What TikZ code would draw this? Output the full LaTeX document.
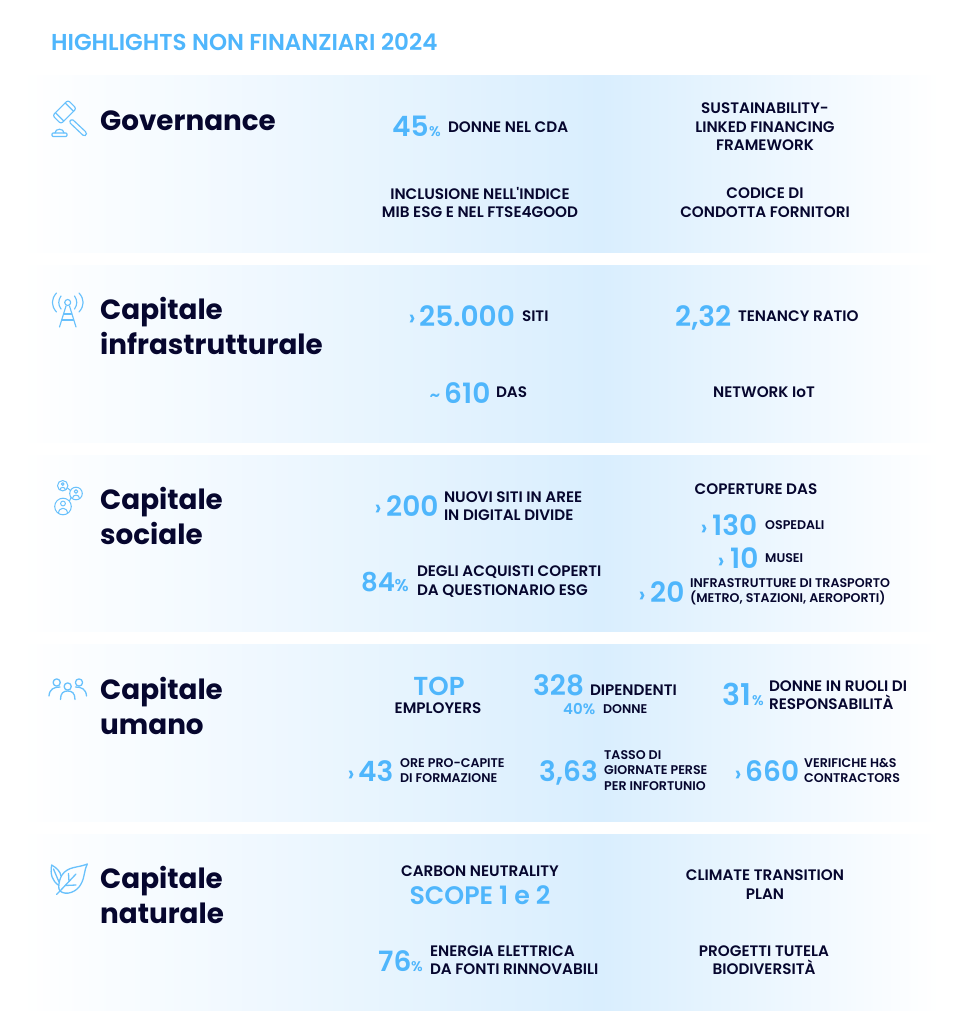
\documentclass[tikz,border=0pt]{standalone}
\usepackage{fontspec}
\setmainfont{Poppins}
\newfontfamily\pmed{Poppins Medium}
\newfontfamily\psemi{Poppins SemiBold}
\definecolor{sky}{HTML}{4FB6FC}
\definecolor{ink}{HTML}{06062E}
\definecolor{band}{HTML}{D9EEFE}
\tikzset{
  txt/.style={inner sep=0pt,outer sep=0pt,text=ink,font=\psemi\fontsize{15.2}{18.4}\selectfont},
  lab/.style={txt,anchor=west,align=left},
  labc/.style={txt,anchor=center,align=center},
  small/.style={inner sep=0pt,anchor=west,align=left,text=ink,font=\psemi\fontsize{12.6}{15.4}\selectfont},
  big/.style={inner sep=0pt,anchor=base west,text=sky,font=\psemi\fontsize{28}{30}\selectfont},
  pct/.style={inner sep=0pt,anchor=base west,text=sky,font=\psemi\fontsize{14}{16}\selectfont},
  gt/.style={inner sep=0pt,anchor=center,text=sky,font=\psemi\fontsize{22}{24}\selectfont},
  head/.style={inner sep=0pt,anchor=base west,align=left,text=ink,font=\bfseries\fontsize{27.8}{35}\selectfont},
  ico/.style={draw=sky!85!white,line width=1.15pt,line cap=round,line join=round,fill=none},
}
\newcommand{\bandat}[2]{%
  \shade[left color=white,right color=band] (20,#1) rectangle (600,#2);
  \shade[left color=band,right color=white] (600,#1) rectangle (940,#2);}
\begin{document}
\begin{tikzpicture}[x=1pt,y=-1pt]
\useasboundingbox (0,0) rectangle (958,1024);
\fill[white] (0,0) rectangle (958,1024);
\bandat{76}{252}\bandat{265}{442}\bandat{455}{631}\bandat{644}{821}\bandat{834}{1010}

\node[inner sep=0pt,anchor=base west,text=sky,font=\psemi\fontsize{23}{26}\selectfont] (title) at (51,51) {HIGHLIGHTS NON FINANZIARI 2024};

% Governance
\node[head] (h1) at (100,131) {Governance};
\node[big] (g1) at (392,137) {45};
\node[pct] (g1p) at (429,137) {\%};
\node[lab] (g1t) at (448,127.500) {DONNE NEL CDA};
\node[labc] (g2) at (765,127) {SUSTAINABILITY-\\LINKED FINANCING\\FRAMEWORK};
\node[labc] (g3) at (480,202.5) {INCLUSIONE NELL'INDICE\\MIB ESG E NEL FTSE4GOOD};
\node[labc] (g4) at (765,202.5) {CODICE DI\\CONDOTTA FORNITORI};

% Infrastrutturale
\node[head,anchor=north west] (h2) at (100,297.500) {Capitale\\infrastrutturale};
\node[gt] (i1g) at (412,320) {›};
\node[big] (i1) at (419,326) {25.000};
\node[lab] (i1t) at (522,316) {SITI};
\node[big] (i2) at (675,326) {2,32};
\node[lab] (i2t) at (738,316) {TENANCY RATIO};
\node[gt,font=\psemi\fontsize{18}{20}\selectfont] (i3g) at (435,398) {\textasciitilde};
\node[big] (i3) at (444,403) {610};
\node[lab] (i3t) at (496,392) {DAS};
\node[labc] (i4) at (764,392) {NETWORK IoT};

% Sociale
\node[head,anchor=north west] (h3) at (100,487.500) {Capitale\\sociale};
\node[gt] (s1g) at (378,510) {›};
\node[big] (s1) at (386,516) {200};
\node[lab] (s1t) at (444,506) {NUOVI SITI IN AREE\\IN DIGITAL DIVIDE};
\node[big,font=\psemi\fontsize{26}{30}\selectfont] (s2) at (361,591) {84};
\node[pct,font=\psemi\fontsize{17}{18}\selectfont] (s2p) at (394.500,591) {\%};
\node[lab] (s2t) at (417,581.5) {DEGLI ACQUISTI COPERTI\\DA QUESTIONARIO ESG};
\node[labc] (s3) at (756,489) {COPERTURE DAS};
\node[gt] (s4g) at (704,530) {›};
\node[big] (s4) at (712,535) {130};
\node[small] (s4t) at (765,525) {OSPEDALI};
\node[gt] (s5g) at (721,563) {›};
\node[big] (s5) at (730,568) {10};
\node[small] (s5t) at (765,558) {MUSEI};
\node[gt] (s6g) at (642,597) {›};
\node[big] (s6) at (650,602) {20};
\node[small] (s6t) at (690,591.5) {INFRASTRUTTURE DI TRASPORTO\\(METRO, STAZIONI, AEROPORTI)};

% Umano
\node[head,anchor=north west] (h4) at (100,677) {Capitale\\umano};
\node[inner sep=0pt,anchor=base,text=sky,font=\psemi\fontsize{26}{28}\selectfont] (u1) at (439,695) {TOP};
\node[labc] (u1t) at (438,708) {EMPLOYERS};
\node[big] (u2) at (533,695) {328};
\node[lab] (u2t) at (590,690) {DIPENDENTI};
\node[inner sep=0pt,anchor=base west,text=sky,font=\psemi\fontsize{15}{16}\selectfont] (u3) at (563,714) {40\%};
\node[small] (u3t) at (603,709) {DONNE};
\node[big,font=\psemi\fontsize{30}{32}\selectfont] (u4) at (722,705.500) {31};
\node[pct] (u4p) at (752,705.500) {\%};
\node[lab] (u4t) at (769,695) {DONNE IN RUOLI DI\\RESPONSABILITÀ};
\node[gt] (u5g) at (351,776) {›};
\node[big] (u5) at (358,781) {43};
\node[small] (u5t) at (400,770.5) {ORE PRO-CAPITE\\DI FORMAZIONE};
\node[big] (u6) at (539,781) {3,63};
\node[small] (u6t) at (604,770.5) {TASSO DI\\GIORNATE PERSE\\PER INFORTUNIO};
\node[gt] (u7g) at (738,776) {›};
\node[big] (u7) at (745,781) {660};
\node[small] (u7t) at (804,770.5) {VERIFICHE H\&S\\CONTRACTORS};

% Naturale
\node[head,anchor=north west] (h5) at (100,866) {Capitale\\naturale};
\node[labc] (n1) at (480,871) {CARBON NEUTRALITY};
\node[inner sep=0pt,anchor=base,text=sky,font=\psemi\fontsize{25.3}{28}\selectfont] (n2) at (480,904) {SCOPE 1 e 2};
\node[labc] (n3) at (765,884.5) {CLIMATE TRANSITION\\PLAN};
\node[big] (n4) at (378,971) {76};
\node[pct] (n4p) at (411,971) {\%};
\node[lab] (n4t) at (430,960) {ENERGIA ELETTRICA\\DA FONTI RINNOVABILI};
\node[labc] (n5) at (764,960) {PROGETTI TUTELA\\BIODIVERSITÀ};

% Gavel icon
\begin{scope}[ico]
  \draw[rounded corners=2.5pt] (68,100.1) -- (76.4,108.5) -- (61,123.9) -- (52.6,115.5) -- cycle;
  \draw (65.2,102.9) -- (73.600,111.300) (55.400,112.700) -- (63.800,121.100);
  \draw[rounded corners=1.5pt] (69,122) -- (72,119) -- (86.5,132.5) -- (86.5,135) -- (84,136.2) -- cycle;
  \draw[rounded corners=1pt] (52,133) rectangle (67,136.500);
  \draw (55,133) .. controls (55,128) and (64,128) .. (64,133);
\end{scope}

% Tower icon
\begin{scope}[ico]
  \draw (67.7,302.5) circle (3);
  \draw (66,306) -- (59.5,327) (69.5,306) -- (76,327);
  \draw (64,314) -- (71.5,314) (62,320) -- (73.5,320);
  \draw (61,296) .. controls (58,300) and (58,305) .. (61,309);
  \draw (74.5,296) .. controls (77.5,300) and (77.5,305) .. (74.5,309);
  \draw (56.5,293) .. controls (51,299) and (51,306) .. (56.5,312);
  \draw (79,293) .. controls (84.500,299) and (84.5,306) .. (79,312);
\end{scope}

% Social icon
\begin{scope}[ico,line width=1pt]
  \draw (62.7,485.7) circle (5.2);
  \draw (76,493.5) circle (6.3);
  \draw (63,506.5) circle (8.3);
  \draw (67.5,488) -- (70.5,490.5) (71,497.5) -- (69.5,501);
  \draw (62.7,484) circle (1.4) (60,490) .. controls (60,486.5) and (65.400,486.5) .. (65.400,490);
  \draw (76,491.5) circle (1.8) (72.500,498.5) .. controls (72.500,494) and (79.500,494) .. (79.500,498.5);
  \draw (63,503.5) circle (2.4) (58.500,513.5) .. controls (58.500,506.5) and (67.500,506.500) .. (67.500,513.5);
\end{scope}

% People icon
\begin{scope}[ico,line width=1.3pt]
  \draw (56.7,682.5) circle (3.6) (67.7,686.5) circle (3.6) (79,682.5) circle (3.6);
  \draw (49,696) .. controls (49.500,689) and (54,687) .. (60,687);
  \draw (60.500,699.500) .. controls (60.500,693) and (63.500,691) .. (67.7,691) .. controls (72,691) and (75,693) .. (75,699.500);
  \draw (75.500,687) .. controls (81.500,687) and (86,689) .. (86.500,696);
\end{scope}

% Leaf icon
\begin{scope}[ico,line width=1.3pt]
  \draw (87.3,864) .. controls (78,868) and (68,866) .. (62,875) .. controls (58,882) and (58,889) .. (60,891) .. controls (66,896) and (77,892) .. (81,884) .. controls (85,877) and (84,870) .. (87.3,864);
  \draw (56.5,894.5) -- (60,891) -- (76,874);
  \draw (69,881.500) -- (68.5,873.500) (65,885.500) -- (76,885) ;
  \draw (59,885.500) .. controls (52,881) and (50,874) .. (51.7,865) .. controls (57,868) and (60.500,872) .. (61,876);
  \draw (53.500,869) -- (59,882);
\end{scope}
\end{tikzpicture}
\end{document}
